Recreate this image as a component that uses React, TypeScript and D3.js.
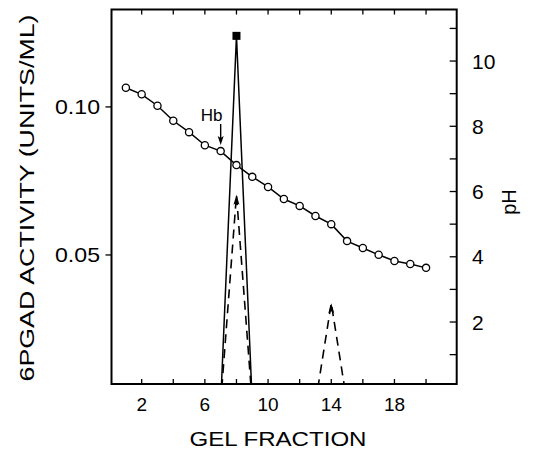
import React from "react";
import * as d3 from "d3";

// Gel fractions (x) and the pH gradient measured on each fraction
const fractions = [1, 2, 3, 4, 5, 6, 7, 8, 9, 10, 11, 12, 13, 14, 15, 16, 17, 18, 19, 20];
const phValues = [9.18, 8.98, 8.63, 8.17, 7.82, 7.42, 7.24, 6.81, 6.45, 6.14, 5.77, 5.56, 5.25, 5.0, 4.48, 4.27, 4.06, 3.87, 3.78, 3.66];

// 6PGAD activity peak (solid triangle, square marker at the top)
const activityFractions = [7, 8, 9];
const activityValues = [0, 0.124, 0];

// Dashed peaks ending in upward arrows
const dashedPeakA = { fractions: [7, 8, 9], values: [0, 0.0703, 0] };
const dashedPeakB = { fractions: [13, 14, 15], values: [0, 0.0337, 0] };

// Hb marker position
const hbFraction = 7;

// Tick values / labels
const xTicks = [2, 4, 6, 8, 10, 12, 14, 16, 18, 20];
const xTickLabels = [2, 6, 10, 14, 18];
const leftTicks = [0.05, 0.1];
const leftTickLabels = ["0.05", "0.10"];
const phTicks = [1, 2, 3, 4, 5, 6, 7, 8, 9, 10, 11];
const phTickLabels = [2, 4, 6, 8, 10];

const W = 533;
const H = 449;
const plot = { left: 111.5, right: 456.7, top: 9.5, bottom: 384 };
const FONT = "'Liberation Sans', Arial, sans-serif";

export default function App() {
  const x = d3.scaleLinear().domain([0.09, 21.94]).range([plot.left, plot.right]);
  const yAct = d3.scaleLinear().domain([0.00642, 0.1329]).range([plot.bottom, plot.top]);
  const yPh = d3.scaleLinear().domain([0.1, 11.58]).range([plot.bottom, plot.top]);

  const actLine = d3
    .line<number>()
    .x((_, i) => x(activityFractions[i]))
    .y((d) => yAct(d));

  const peakLine = (fr: number[]) =>
    d3
      .line<number>()
      .x((_, i) => x(fr[i]))
      .y((d) => yAct(d));

  const phLine = d3
    .line<number>()
    .x((_, i) => x(fractions[i]))
    .y((d) => yPh(d));

  const arrowHead = (cx: number, tipY: number, w = 6, h = 10) =>
    `M${cx},${tipY} L${cx - w / 2},${tipY + h} L${cx},${tipY + h - 2} L${cx + w / 2},${tipY + h} Z`;

  const peakTop = activityValues[1];
  const hbX = x(hbFraction);
  const hbY = yPh(phValues[fractions.indexOf(hbFraction)]);

  return (
    <svg
      width={W}
      height={H}
      style={{ position: "absolute", left: 0, top: 0, background: "#fff" }}
      fontFamily={FONT}
    >
      <defs>
        <clipPath id="plotClip">
          <rect x={plot.left} y={plot.top} width={plot.right - plot.left} height={plot.bottom - plot.top} />
        </clipPath>
      </defs>

      {/* frame */}
      <rect
        x={plot.left}
        y={plot.top}
        width={plot.right - plot.left}
        height={plot.bottom - plot.top}
        fill="none"
        stroke="#000"
        strokeWidth={2}
      />

      {/* bottom and top ticks (inside) */}
      {xTicks.map((t) => (
        <g key={"xt" + t} stroke="#000" strokeWidth={1.3}>
          <line x1={x(t)} x2={x(t)} y1={plot.bottom} y2={plot.bottom - 5} />
          <line x1={x(t)} x2={x(t)} y1={plot.top} y2={plot.top + 5} />
        </g>
      ))}
      {xTickLabels.map((t) => (
        <text key={"xl" + t} x={x(t)} y={411} textAnchor="middle" fontSize={19}>
          {t}
        </text>
      ))}
      <text x={278} y={446} textAnchor="middle" fontSize={21} textLength={177} lengthAdjust="spacingAndGlyphs">
        GEL FRACTION
      </text>

      {/* left axis ticks (outside) */}
      {leftTicks.map((t, i) => (
        <g key={"lt" + t}>
          <line x1={plot.left} x2={plot.left - 6} y1={yAct(t)} y2={yAct(t)} stroke="#000" strokeWidth={1.3} />
          <text x={100} y={yAct(t) + 7.5} textAnchor="end" fontSize={21} textLength={45} lengthAdjust="spacingAndGlyphs">
            {leftTickLabels[i]}
          </text>
        </g>
      ))}
      <text
        transform={`translate(34,${198}) rotate(-90)`}
        textAnchor="middle"
        fontSize={21}
        textLength={367}
        lengthAdjust="spacingAndGlyphs"
      >
        6PGAD ACTIVITY (UNITS/ML)
      </text>

      {/* right pH axis ticks (inside) */}
      {phTicks.map((t) => (
        <line
          key={"pt" + t}
          x1={plot.right}
          x2={plot.right - 7}
          y1={yPh(t)}
          y2={yPh(t)}
          stroke="#000"
          strokeWidth={1.3}
        />
      ))}
      {phTickLabels.map((t) => (
        <text key={"pl" + t} x={472} y={yPh(t) + 7.5} textAnchor="start" fontSize={21}>
          {t}
        </text>
      ))}
      <text transform={`translate(516,${202}) rotate(-90)`} textAnchor="middle" fontSize={20}>
        pH
      </text>

      <g clipPath="url(#plotClip)">
        {/* activity peak */}
        <path d={actLine(activityValues) ?? ""} fill="none" stroke="#000" strokeWidth={1.5} />

        {/* dashed peaks */}
        {[dashedPeakA, dashedPeakB].map((p, i) => (
          <path
            key={"dp" + i}
            d={peakLine(p.fractions)(p.values) ?? ""}
            fill="none"
            stroke="#000"
            strokeWidth={1.6}
            strokeDasharray="9,6"
          />
        ))}
      </g>
      {[dashedPeakA, dashedPeakB].map((p, i) => (
        <path key={"ah" + i} d={arrowHead(x(p.fractions[1]), yAct(p.values[1]))} fill="#000" />
      ))}

      {/* square marker at the activity maximum */}
      <rect x={x(8) - 4} y={yAct(peakTop) - 4} width={8} height={8} fill="#000" />

      {/* pH gradient */}
      <path d={phLine(phValues) ?? ""} fill="none" stroke="#000" strokeWidth={1.5} />
      {phValues.map((v, i) => (
        <circle key={"pc" + i} cx={x(fractions[i])} cy={yPh(v)} r={3.6} fill="#fff" stroke="#000" strokeWidth={1.3} />
      ))}

      {/* Hb marker */}
      <text x={hbX - 9} y={121} textAnchor="middle" fontSize={17}>
        Hb
      </text>
      <line x1={hbX} x2={hbX} y1={124} y2={hbY - 11} stroke="#000" strokeWidth={1.4} />
      <path d={arrowHead(hbX, hbY - 6, 6, 9).replace(/(\d)/, "$1")} transform={`rotate(180 ${hbX} ${hbY - 6})`} fill="#000" />
    </svg>
  );
}
